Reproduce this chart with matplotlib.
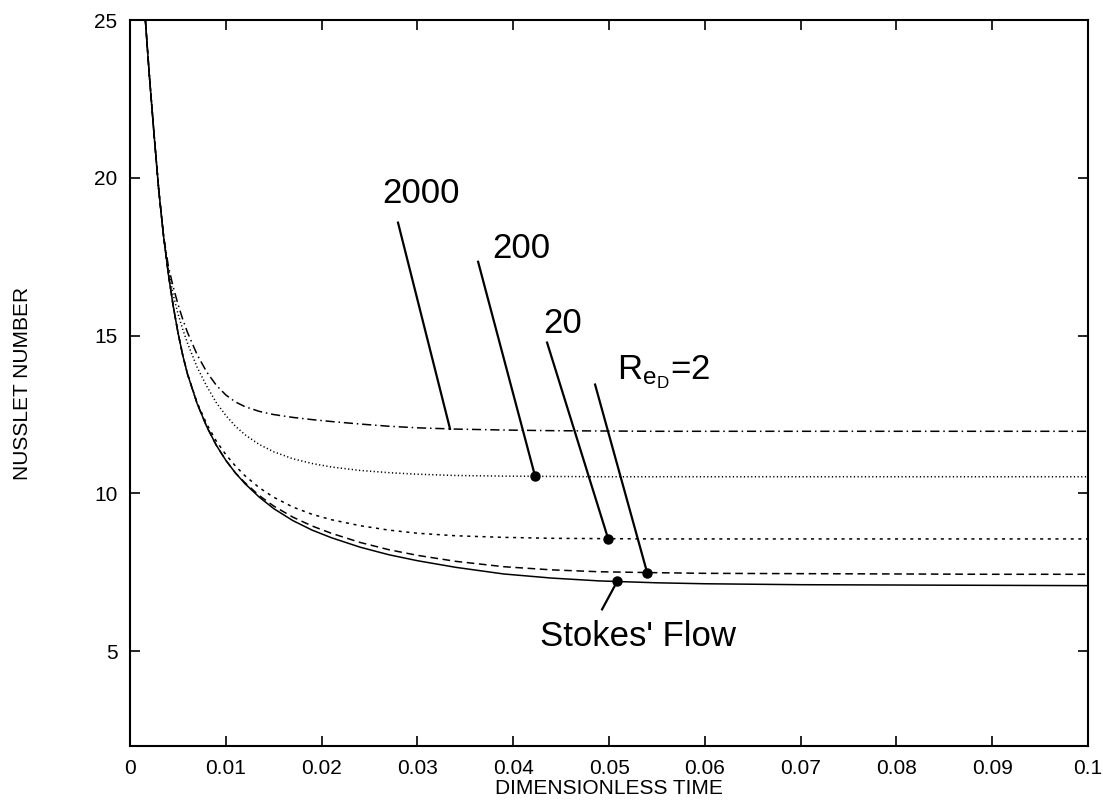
import numpy as np
import matplotlib
matplotlib.use("Agg")
import matplotlib.pyplot as plt

plt.rcParams['font.family'] = ['Liberation Sans', 'DejaVu Sans']
plt.rcParams['mathtext.fontset'] = 'custom'
plt.rcParams['mathtext.rm'] = 'Liberation Sans'
plt.rcParams['mathtext.it'] = 'Liberation Sans'

### DATA ###
t = [0.0016, 0.002, 0.0025, 0.003, 0.0035, 0.004, 0.0045, 0.005, 0.0055, 0.006,
     0.007, 0.008, 0.009, 0.010, 0.011, 0.012, 0.0135, 0.015, 0.017, 0.019,
     0.021, 0.024, 0.027, 0.030, 0.034, 0.039, 0.044, 0.049, 0.055, 0.060,
     0.070, 0.080, 0.090, 0.100]

nu_stokes = [25.0, 23.3, 21.4, 19.6, 18.15, 16.95, 15.95, 15.1, 14.38, 13.78,
             12.85, 12.12, 11.53, 11.05, 10.65, 10.31, 9.88, 9.52, 9.14, 8.84,
             8.6, 8.3, 8.06, 7.87, 7.66, 7.45, 7.32, 7.23, 7.17, 7.14,
             7.11, 7.10, 7.09, 7.08]

nu_re2 = [25.0, 23.3, 21.4, 19.6, 18.15, 16.95, 15.95, 15.1, 14.38, 13.78,
          12.85, 12.12, 11.53, 11.05, 10.65, 10.34, 9.93, 9.6, 9.25, 8.97,
          8.74, 8.45, 8.22, 8.04, 7.85, 7.68, 7.58, 7.52, 7.49, 7.47,
          7.46, 7.45, 7.44, 7.44]

nu_re20 = [25.0, 23.3, 21.4, 19.6, 18.15, 16.95, 15.95, 15.1, 14.38, 13.78,
           12.88, 12.2, 11.66, 11.23, 10.87, 10.56, 10.18, 9.88, 9.57, 9.34,
           9.17, 8.98, 8.84, 8.74, 8.66, 8.61, 8.58, 8.57, 8.56, 8.56,
           8.56, 8.56, 8.56, 8.56]

nu_re200 = [25.0, 23.3, 21.4, 19.6, 18.15, 17.1, 16.3, 15.7, 15.2, 14.76,
            14.0, 13.4, 12.88, 12.47, 12.13, 11.86, 11.55, 11.32, 11.1, 10.95,
            10.84, 10.73, 10.66, 10.61, 10.57, 10.55, 10.54, 10.53, 10.53, 10.53,
            10.53, 10.53, 10.53, 10.53]

nu_re2000 = [25.0, 23.3, 21.4, 19.6, 18.15, 17.2, 16.55, 16.0, 15.52, 15.1,
             14.4, 13.85, 13.43, 13.12, 12.9, 12.75, 12.6, 12.5, 12.41, 12.34,
             12.28, 12.2, 12.13, 12.08, 12.04, 12.01, 11.99, 11.98, 11.97, 11.97,
             11.97, 11.97, 11.97, 11.97]

# labels and their leader lines
label_text = ['2000', '200', '20', r'$\mathrm{R_{e_D}}$=2', "Stokes' Flow"]
label_x = [0.03038, 0.0408, 0.0452, 0.0508, 0.0428]
label_y = [19.21, 17.47, 15.09, 13.61, 5.16]
label_ha = ['center', 'center', 'center', 'left', 'left']
lead_x0 = [0.02797, 0.03633, 0.04353, 0.04854, 0.04927]
lead_y0 = [18.58, 17.34, 14.78, 13.45, 6.33]
lead_x1 = [0.0334, 0.04228, 0.0499, 0.05397, 0.05084]
lead_dot = [False, True, True, True, True]

xticks = [0, 0.01, 0.02, 0.03, 0.04, 0.05, 0.06, 0.07, 0.08, 0.09, 0.1]
xtick_labels = ['0', '0.01', '0.02', '0.03', '0.04', '0.05', '0.06', '0.07', '0.08', '0.09', '0.1']
yticks = [5, 10, 15, 20, 25]

### PLOT ###
fig = plt.figure(figsize=(11.03, 8), dpi=100)
ax = fig.add_axes([0.1179, 0.0675, 0.8686, 0.9075])

curves = [
    (nu_stokes, '-'),
    (nu_re2, (0, (5, 3))),
    (nu_re20, (0, (2, 3))),
    (nu_re200, (0, (0.8, 1.6))),
    (nu_re2000, (0, (6, 2.5, 1, 2.5))),
]
for ys, ls in curves:
    ax.plot(t, ys, color='black', lw=1.1, linestyle=ls)

# curve each label points to
label_curve = [nu_re2000, nu_re200, nu_re20, nu_re2, nu_stokes]
for i in range(len(label_text)):
    y1 = np.interp(lead_x1[i], t, label_curve[i])
    ax.plot([lead_x0[i], lead_x1[i]], [lead_y0[i], y1], color='black', lw=1.6)
    if lead_dot[i]:
        ax.plot(lead_x1[i], y1, 'o', color='black', markersize=6.5)
    ax.text(label_x[i], label_y[i], label_text[i], fontsize=25,
            ha=label_ha[i], va='baseline')

ax.set_xlim(0, 0.1)
ax.set_ylim(2, 25)
ax.set_xticks(xticks)
ax.set_xticklabels(xtick_labels)
ax.set_yticks(yticks)
ax.tick_params(direction='in', length=7, width=1.2, top=True, right=True, labelsize=15)
ax.tick_params(axis='x', pad=9)
ax.tick_params(axis='y', pad=9)
for sp in ax.spines.values():
    sp.set_linewidth(1.5)

ax.set_xlabel('DIMENSIONLESS TIME', fontsize=15, va='top')
ax.xaxis.set_label_coords(0.5, -0.046)
fig.text(23/1103, 1 - 383/800, 'NUSSLET NUMBER', fontsize=15, rotation=90,
         ha='center', va='center')

fig.savefig('out.png', dpi=100)
